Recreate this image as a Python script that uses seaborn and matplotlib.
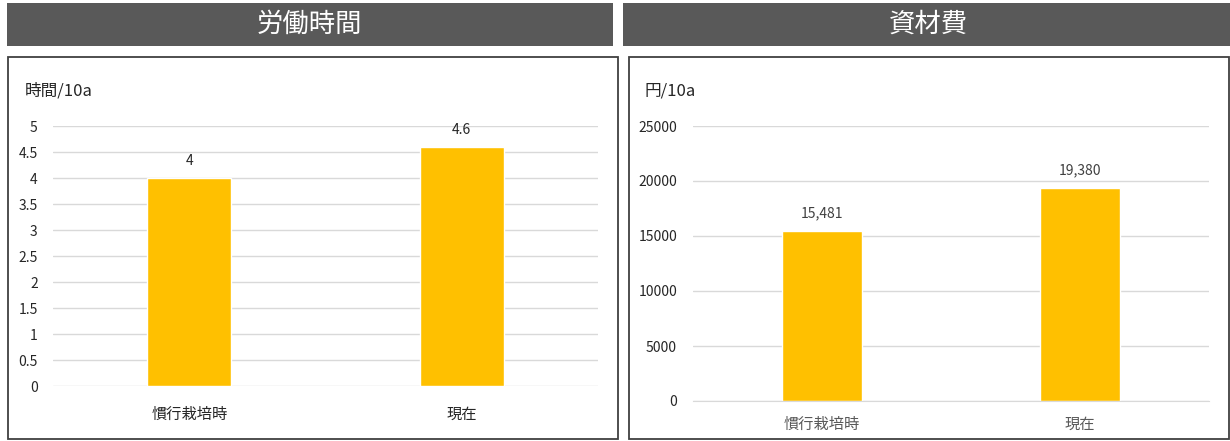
import matplotlib
matplotlib.use("Agg")
import matplotlib.pyplot as plt
import seaborn as sns
import pandas as pd
from matplotlib.patches import Rectangle

categories = ["慣行栽培時", "現在"]
labor_hours = [4, 4.6]
material_cost = [15481, 19380]
labor_labels = ["4", "4.6"]
cost_labels = ["15,481", "19,380"]
titles = ["労働時間", "資材費"]
units = ["時間/10a", "円/10a"]
labor_ticks = [0, 0.5, 1, 1.5, 2, 2.5, 3, 3.5, 4, 4.5, 5]
labor_ticklabels = ["0", "0.5", "1", "1.5", "2", "2.5", "3", "3.5", "4", "4.5", "5"]
cost_ticks = [0, 5000, 10000, 15000, 20000, 25000]

sns.set_style("white")
plt.rcParams['font.family'] = ['Noto Sans CJK JP', 'DejaVu Sans']

W, H = 1230, 441
fig = plt.figure(figsize=(W / 100, H / 100), dpi=100)

def fx(x):
    return x / W

def fy(y):
    return 1 - y / H

def rect_px(x0, y0, x1, y1, **kw):
    r = Rectangle((fx(x0), fy(y1)), fx(x1) - fx(x0), fy(y0) - fy(y1),
                  transform=fig.transFigure, **kw)
    fig.patches.append(r)

BAR = "#FFC000"
HEAD = "#595959"
TXT = "#262626"
GRID = "#d9d9d9"

# headers
rect_px(7, 3, 613, 46, facecolor=HEAD, edgecolor="none")
rect_px(623, 3, 1230, 46, facecolor=HEAD, edgecolor="none")
fig.text(fx(309), fy(24), titles[0], color="white", fontsize=19, ha="center", va="center")
fig.text(fx(928), fy(24), titles[1], color="white", fontsize=19, ha="center", va="center")

# boxes
rect_px(8, 57, 618, 439, facecolor="none", edgecolor="#404040", linewidth=1.3)
rect_px(629, 57, 1229, 439, facecolor="none", edgecolor="#404040", linewidth=1.3)

fig.text(fx(25), fy(91), units[0], fontsize=12, ha="left", va="center", color=TXT)
fig.text(fx(645), fy(91), units[1], fontsize=12, ha="left", va="center", color=TXT)

def make_ax(x0, x1, y0, y1):
    return fig.add_axes([fx(x0), fy(y1), fx(x1) - fx(x0), fy(y0) - fy(y1)])

# left
ax1 = make_ax(53, 598, 126, 386)
df1 = pd.DataFrame({"cat": categories, "val": labor_hours})
sns.barplot(data=df1, x="cat", y="val", color=BAR, width=0.31, saturation=1, ax=ax1)
ax1.set_ylim(0, 5)
ax1.set_xlim(-0.5, 1.5)
ax1.set_yticks(labor_ticks)
ax1.set_yticklabels(labor_ticklabels)
ax1.yaxis.grid(True, color=GRID, linewidth=1)
ax1.set_axisbelow(True)
for s in ax1.spines.values():
    s.set_visible(False)
ax1.set_xlabel("")
ax1.set_ylabel("")
ax1.tick_params(axis="y", length=0, pad=11, labelsize=10, labelcolor=TXT)
ax1.tick_params(axis="x", length=0, pad=14, labelsize=11, labelcolor=TXT)
for i, (v, t) in enumerate(zip(labor_hours, labor_labels)):
    ax1.annotate(t, (i, v), xytext=(0, 12), textcoords="offset points",
                 ha="center", va="center", fontsize=10, color=TXT)

# right
ax2 = make_ax(693, 1209, 126, 401)
df2 = pd.DataFrame({"cat": categories, "val": material_cost})
sns.barplot(data=df2, x="cat", y="val", color=BAR, width=0.31, saturation=1, ax=ax2)
ax2.set_ylim(0, 25000)
ax2.set_xlim(-0.5, 1.5)
ax2.set_yticks(cost_ticks)
ax2.set_yticklabels([str(t) for t in cost_ticks])
ax2.yaxis.grid(True, color=GRID, linewidth=1)
ax2.set_axisbelow(True)
for k, s in ax2.spines.items():
    s.set_visible(k == "bottom")
ax2.spines["bottom"].set_color(GRID)
ax2.set_xlabel("")
ax2.set_ylabel("")
ax2.set_xticks([-0.5, 0.5, 1.5], minor=True)
ax2.tick_params(axis="x", which="minor", length=4, color=GRID, width=1)
ax2.tick_params(axis="y", length=0, pad=11.5, labelsize=10, labelcolor=TXT)
ax2.tick_params(axis="x", which="major", length=0, pad=11, labelsize=11, labelcolor="#595959")
for i, (v, t) in enumerate(zip(material_cost, cost_labels)):
    ax2.annotate(t, (i, v), xytext=(0, 12.5), textcoords="offset points",
                 ha="center", va="center", fontsize=10, color="#404040")

fig.savefig("out.png", dpi=100)
